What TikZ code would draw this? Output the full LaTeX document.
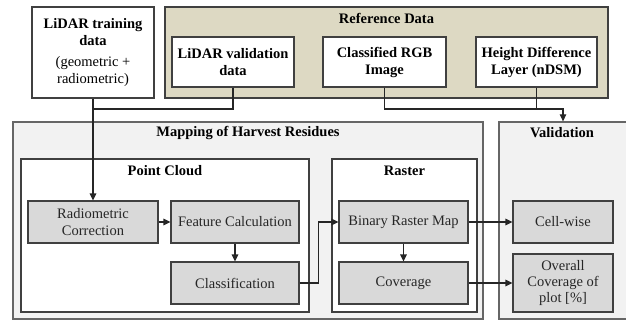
\documentclass[tikz,border=0pt]{standalone}
\usepackage{fontspec}
\setmainfont{Liberation Serif}
\usetikzlibrary{arrows.meta}
\definecolor{tanfill}{HTML}{DDD9C3}
\definecolor{panelfill}{HTML}{F2F2F2}
\definecolor{stepfill}{HTML}{D9D9D9}
\definecolor{edge}{HTML}{404040}
\definecolor{wire}{HTML}{262626}
\begin{document}
\begin{tikzpicture}[x=1pt,y=-1pt,
  font=\fontsize{14.5}{17}\selectfont,
  box/.style={draw=edge,line width=1.1pt,inner sep=0pt,align=center,anchor=center},
  panel/.style={box,fill=panelfill,line width=1.3pt,draw=black!60},
  group/.style={box,fill=white},
  datbox/.style={box,fill=white},
  stepbox/.style={box,fill=stepfill,text=black!85},
  ttl/.style={font=\fontsize{14.5}{17}\selectfont\bfseries,inner sep=0pt,anchor=center},
  link/.style={draw=wire,line width=1.1pt},
  arr/.style={link,-{Triangle[length=7pt,width=6.5pt]}}
]
\useasboundingbox (0,0) rectangle (626,321);

% input data
\node[datbox,minimum width=122pt,minimum height=91pt] (train) at (93,52.5)
  {\textbf{LiDAR training}\\\textbf{data}\\[4pt]\fontsize{14.5}{16}\selectfont(geometric +\\radiometric)};

% reference data
\node[box,fill=tanfill,draw=black!75,line width=1.3pt,minimum width=443pt,minimum height=91pt] (refdata) at (386.5,52.5) {};
\node[ttl] (reftitle) at (386.5,18) {Reference Data};
\node[datbox,minimum width=122pt,minimum height=50pt,font=\fontsize{14.5}{17}\selectfont\bfseries] (valdata) at (233,62) {LiDAR validation\\data};
\node[datbox,minimum width=123pt,minimum height=50pt,font=\fontsize{14.5}{17}\selectfont\bfseries] (rgb) at (384.5,62) {Classified RGB\\Image};
\node[datbox,minimum width=121pt,minimum height=50pt,font=\fontsize{14.5}{17}\selectfont\bfseries] (ndsm) at (536.5,62) {Height Difference\\Layer (nDSM)};

% mapping panel
\node[panel,minimum width=470pt,minimum height=197pt] (mapping) at (248,220.5) {};
\node[ttl] (maptitle) at (248,133) {Mapping of Harvest Residues};
\node[group,minimum width=288pt,minimum height=153pt] (cloud) at (165,235.5) {};
\node[ttl] (cloudtitle) at (165,171) {Point Cloud};
\node[group,minimum width=145pt,minimum height=153pt] (raster) at (404.5,235.5) {};
\node[ttl] (rastertitle) at (404.5,171) {Raster};

% validation panel
\node[panel,minimum width=128pt,minimum height=197pt] (validation) at (563,220.5) {};
\node[ttl] (valtitle) at (562,133) {Validation};

% processing steps
\node[stepbox,minimum width=130pt,minimum height=42pt] (radio) at (93,222) {Radiometric\\Correction};
\node[stepbox,minimum width=128pt,minimum height=42pt] (feat) at (235,222) {Feature Calculation};
\node[stepbox,minimum width=128pt,minimum height=42pt] (classif) at (235,283) {Classification};
\node[stepbox,minimum width=129pt,minimum height=42pt] (binary) at (403.5,222) {Binary Raster Map};
\node[stepbox,minimum width=129pt,minimum height=42pt] (cover) at (403.5,283) {Coverage};
\node[stepbox,minimum width=100pt,minimum height=42pt] (cell) at (563,222) {Cell-wise};
\node[stepbox,minimum width=100pt,minimum height=58pt,font=\fontsize{14.5}{16}\selectfont] (overall) at (563,283) {Overall\\Coverage of\\plot [\%]};

% connectors
\coordinate (ltjoin) at (93,109);
\coordinate (rtjoin) at (563,109);
\draw[arr] (train.south) -- (radio.north);
\draw[link] (valdata.south) |- (ltjoin);
\draw[arr] (rgb.south) |- (rtjoin) -- (validation.north);
\draw[link] (ndsm.south) -- (ndsm.south |- rtjoin);
\draw[arr] (radio.east) -- (feat.west);
\draw[arr] (feat.south) -- (classif.north);
\draw[arr] (classif.east) -- ++(19,0) |- (binary.west);
\draw[arr] (binary.south) -- (cover.north);
\draw[arr] (binary.east) -- (cell.west);
\draw[arr] (cover.east) -- (overall.west);
\end{tikzpicture}
\end{document}
